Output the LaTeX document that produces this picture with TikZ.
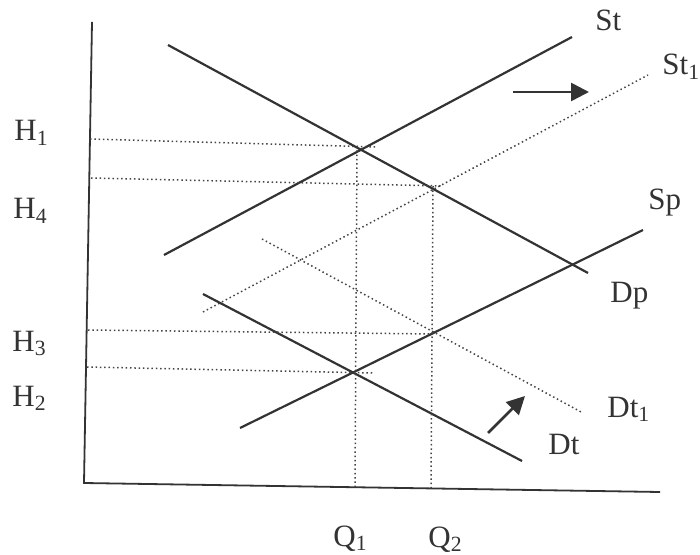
\documentclass[tikz,border=0pt]{standalone}
\usepackage{fontspec}
\setmainfont{Liberation Serif}
\usetikzlibrary{arrows.meta,intersections}
\definecolor{ink}{HTML}{333333}
\definecolor{dotink}{HTML}{444444}
\tikzset{
  curve/.style={draw=ink,line width=1.1pt},
  dotcurve/.style={draw=dotink,line width=0.75pt,dash pattern=on 0.75pt off 1.4pt},
  guide/.style={draw=dotink,line width=0.75pt,dash pattern=on 0.75pt off 1.4pt},
  axis/.style={draw=ink,line width=0.9pt},
  lbl/.style={font=\fontsize{15.5}{18}\selectfont,text=ink,inner sep=0pt,anchor=base west},
  shiftarrow/.style={draw=ink,line width=1.3pt,-{Triangle[length=9pt,width=9pt]}}
}
\begin{document}
\begin{tikzpicture}[x=0.5pt,y=-0.5pt]
\useasboundingbox (0,0) rectangle (700,555);
% axes
\coordinate (O) at (84,483);
\coordinate (Ytop) at (92,22);
\coordinate (Xend) at (660,492);
\draw[axis] (Ytop) -- (O) -- (Xend);
% curves
\coordinate (St-a) at (164,255); \coordinate (St-b) at (572,37);
\coordinate (Dp-a) at (168,45);  \coordinate (Dp-b) at (588,273);
\coordinate (St1-a) at (203,312); \coordinate (St1-b) at (648,75);
\coordinate (Sp-a) at (240,428); \coordinate (Sp-b) at (643,230);
\coordinate (Dt-a) at (203,294); \coordinate (Dt-b) at (522,461);
\coordinate (Dt1-a) at (262,239); \coordinate (Dt1-b) at (583,413);
\path[curve] (St-a) -- (St-b);
\path[curve] (Dp-a) -- (Dp-b);
\path[dotcurve] (St1-a) -- (St1-b);
\path[curve] (Sp-a) -- (Sp-b);
\path[curve] (Dt-a) -- (Dt-b);
\path[dotcurve] (Dt1-a) -- (Dt1-b);
% guides
\coordinate (H1a) at (90,139);  \coordinate (H1b) at (377,147);
\coordinate (H4a) at (91,178);  \coordinate (H4b) at (443,186);
\coordinate (H3a) at (88,330);  \coordinate (H3b) at (433,334);
\coordinate (H2a) at (87,367);  \coordinate (H2b) at (374,373);
\draw[guide] (H1a) -- (H1b);
\draw[guide] (H4a) -- (H4b);
\draw[guide] (H3a) -- (H3b);
\draw[guide] (H2a) -- (H2b);
\coordinate (Q1a) at (357,146); \coordinate (Q1b) at (355,487);
\coordinate (Q2a) at (433,186); \coordinate (Q2b) at (431,489);
\draw[guide] (Q1a) -- (Q1b);
\draw[guide] (Q2a) -- (Q2b);
% shift arrows
\coordinate (A1a) at (513,92); \coordinate (A1b) at (589,92);
\coordinate (A2a) at (488,433); \coordinate (A2b) at (525,396);
\draw[shiftarrow] (A1a) -- (A1b);
\draw[shiftarrow] (A2a) -- (A2b);
% labels
\node[lbl] (lH1) at (14,141) {H\textsubscript{1}};
\node[lbl] (lH4) at (13,219) {H\textsubscript{4}};
\node[lbl] (lH3) at (12,351) {H\textsubscript{3}};
\node[lbl] (lH2) at (12,406) {H\textsubscript{2}};
\node[lbl] (lSt) at (595,31) {St};
\node[lbl] (lSt1) at (662,75) {St\textsubscript{1}};
\node[lbl] (lSp) at (648,210) {Sp};
\node[lbl] (lDp) at (610,302) {Dp};
\node[lbl] (lDt1) at (607,417) {Dt\textsubscript{1}};
\node[lbl] (lDt) at (548,454) {Dt};
\node[lbl] (lQ1) at (333,546) {Q\textsubscript{1}};
\node[lbl] (lQ2) at (428,547) {Q\textsubscript{2}};
\end{tikzpicture}
\end{document}
